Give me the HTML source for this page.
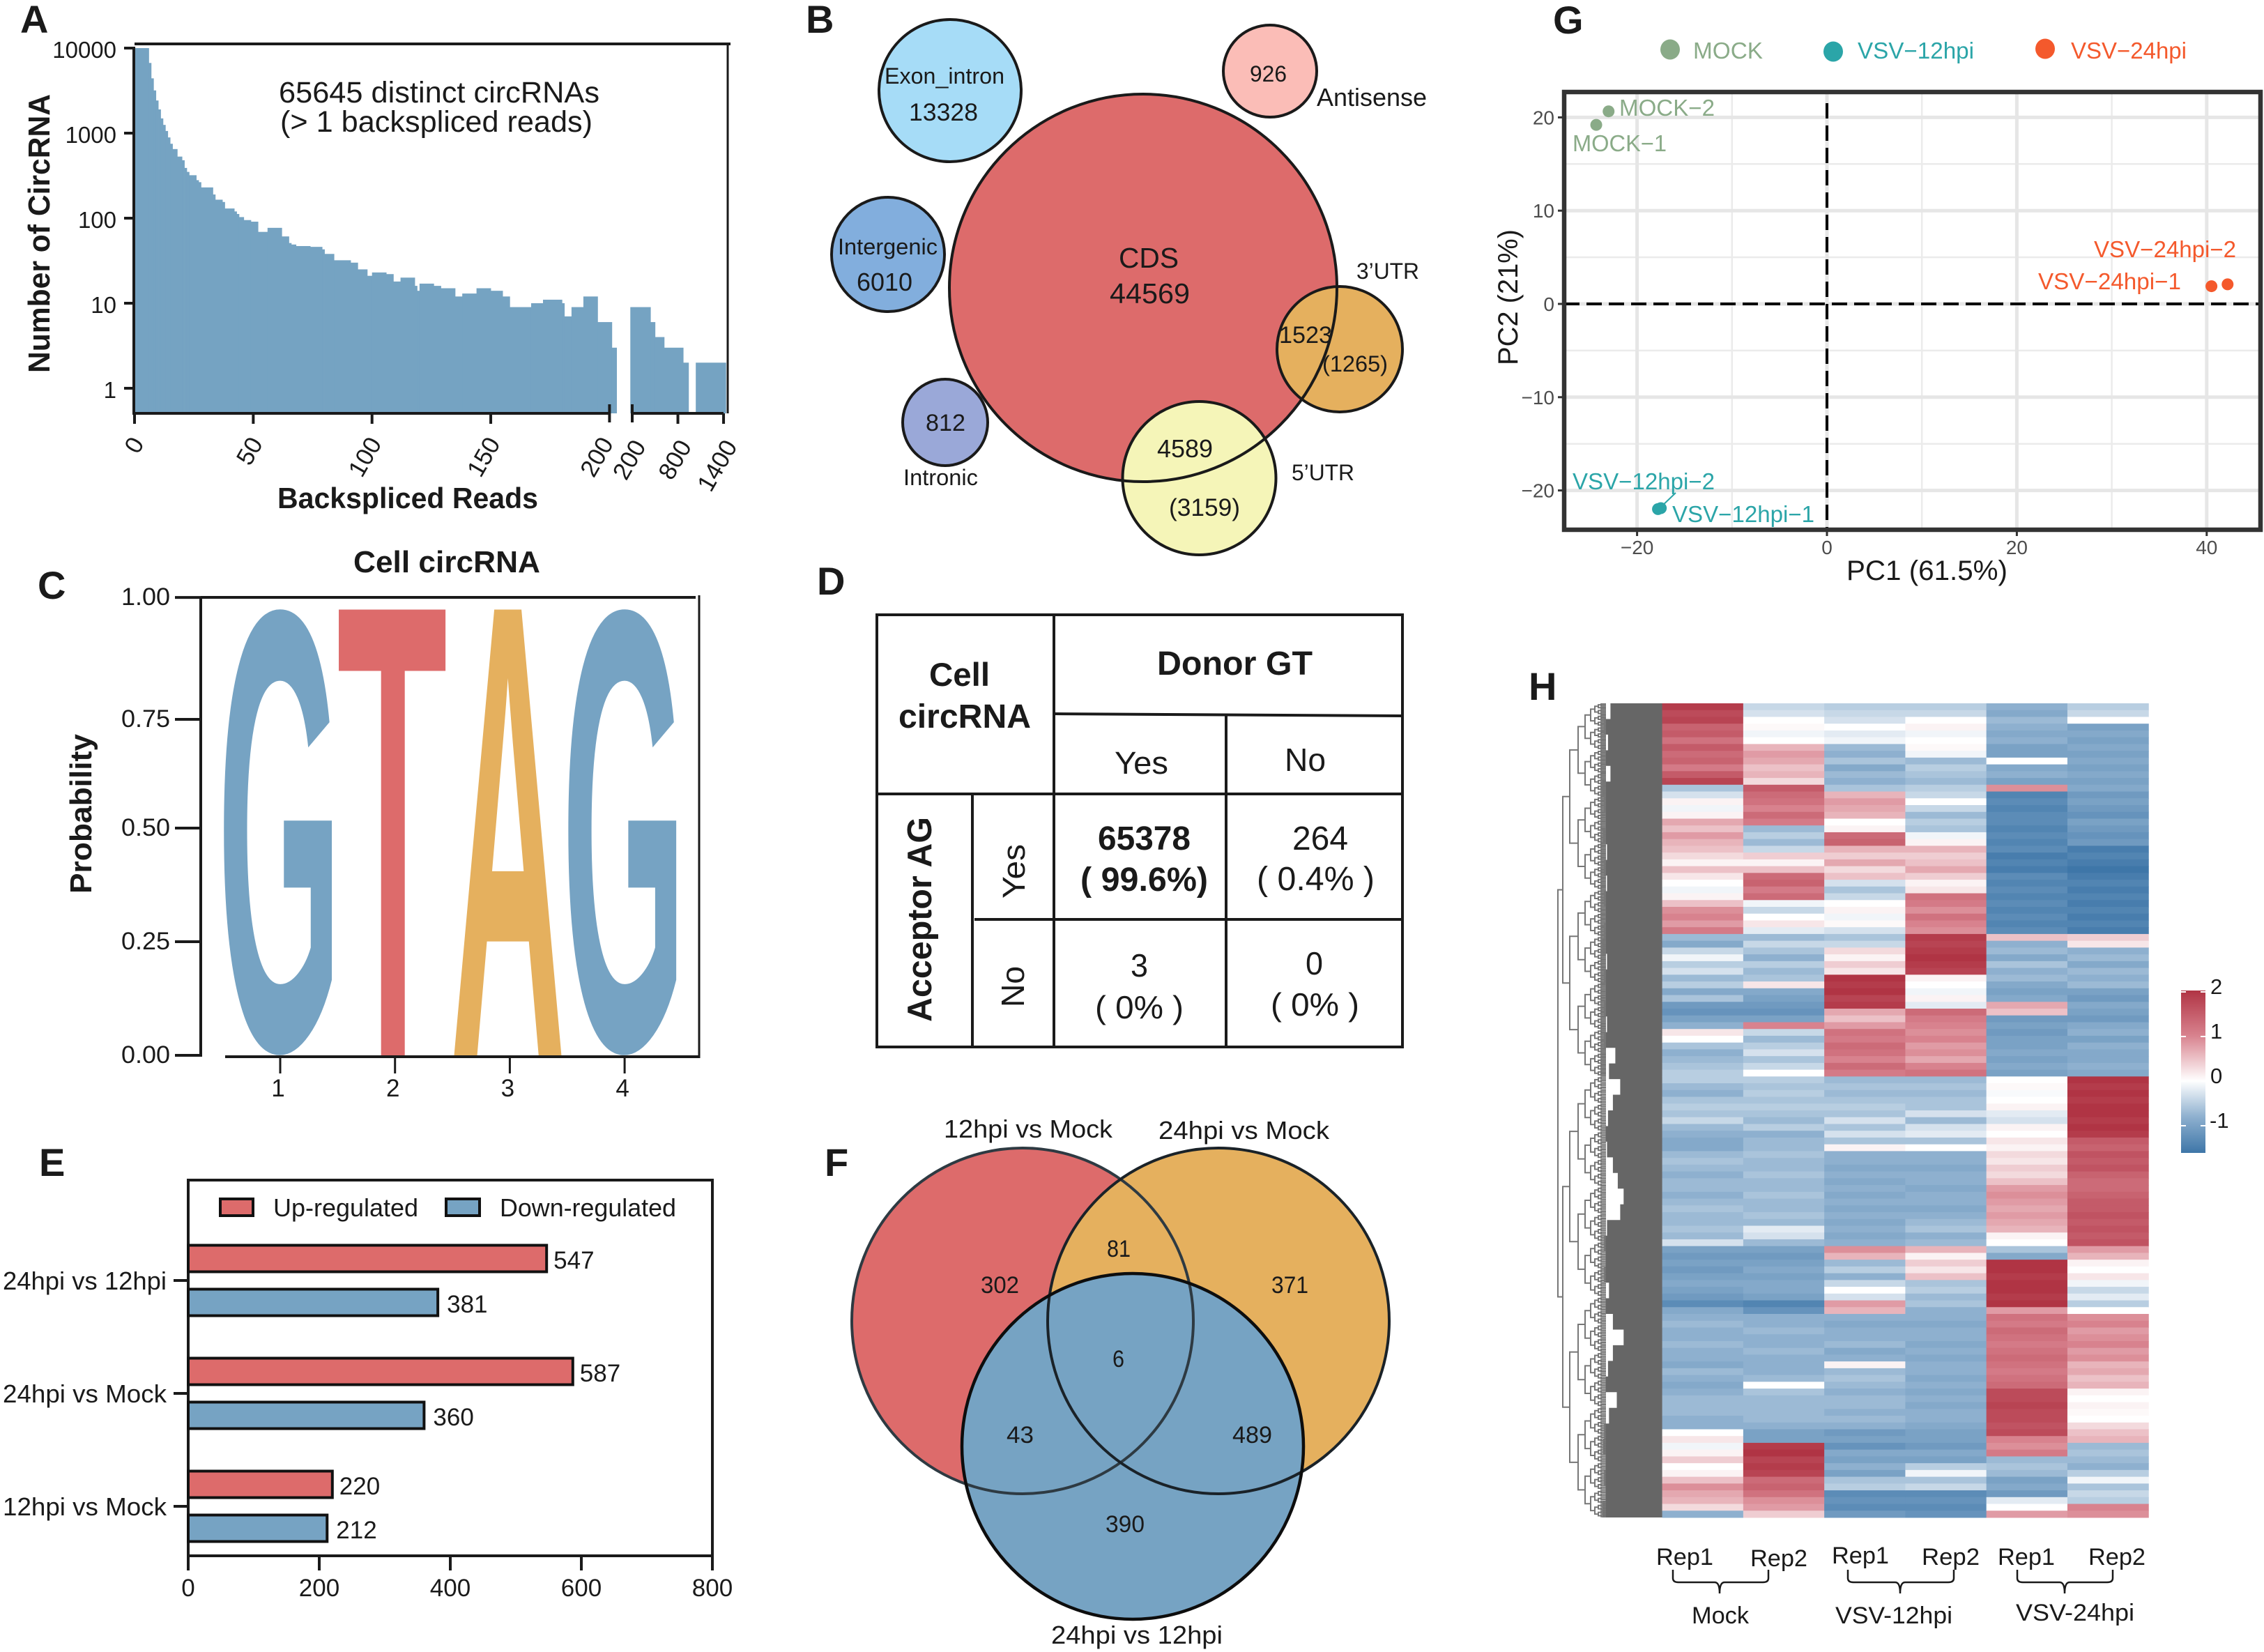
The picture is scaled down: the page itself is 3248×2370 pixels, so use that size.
<!DOCTYPE html>
<html lang="en">
<head>
<meta charset="utf-8">
<title>circRNA figure panels A-H</title>
<style>
html,body{margin:0;padding:0;background:#fff;}
svg{display:block;}
text{font-family:"Liberation Sans",Arial,sans-serif;fill:#1a1a1a;}
.pl{font-size:56px;font-weight:bold;}
.b{font-weight:bold;}
</style>
</head>
<body>
<svg id="fig" width="3248" height="2370" viewBox="0 0 3248 2370">
<defs>
<linearGradient id="cbar" x1="0" y1="1" x2="0" y2="0">
<stop offset="0" stop-color="#3e76a8"/><stop offset="0.222" stop-color="#8eb0cf"/><stop offset="0.444" stop-color="#ffffff"/><stop offset="0.722" stop-color="#d8828e"/><stop offset="1" stop-color="#b03444"/>
</linearGradient>
</defs>
<rect x="0" y="0" width="3248" height="2370" fill="#fff"/>

<!-- PANEL A -->
<g>
<text class="pl" x="29" y="47">A</text>
<g id="a-bars"></g>
<g id="a-axes"></g>
<line x1="192" y1="67" x2="192" y2="595" stroke="#1a1a1a" stroke-width="4"/>
<line x1="193" y1="63" x2="1048" y2="63" stroke="#1a1a1a" stroke-width="4"/>
<line x1="1044" y1="65" x2="1044" y2="593" stroke="#1a1a1a" stroke-width="3"/>
<line x1="192" y1="593" x2="876" y2="593" stroke="#1a1a1a" stroke-width="4"/>
<line x1="907" y1="593" x2="1038" y2="593" stroke="#1a1a1a" stroke-width="4"/>
<text x="400" y="147" font-size="43" textLength="460" lengthAdjust="spacingAndGlyphs">65645 distinct circRNAs</text>
<text x="402" y="189" font-size="43" textLength="448" lengthAdjust="spacingAndGlyphs">(&gt; 1 backspliced reads)</text>
<text class="b" transform="translate(71,535) rotate(-90)" font-size="44" textLength="400" lengthAdjust="spacingAndGlyphs">Number of CircRNA</text>
<text class="b" x="398" y="729" font-size="42" textLength="374" lengthAdjust="spacingAndGlyphs">Backspliced Reads</text>
</g>

<!-- PANEL B -->
<g>
<text class="pl" x="1156" y="47">B</text>
<g stroke="#1a1a1a" stroke-width="4">
<circle cx="1363" cy="130" r="102" fill="#a6dcf7"/>
<ellipse cx="1822" cy="102" rx="67" ry="66" fill="#fbbdb7"/>
<ellipse cx="1274" cy="365" rx="81" ry="82" fill="#82aedd"/>
<ellipse cx="1356" cy="606" rx="61" ry="62" fill="#9aa8d8"/>
<circle cx="1640" cy="413" r="278" fill="#dd6b6b" stroke="none"/>
<circle cx="1922" cy="501" r="90" fill="#e5b05e"/>
<circle cx="1720.5" cy="686" r="110" fill="#f5f5b8"/>
<circle cx="1640" cy="413" r="278" fill="none"/>
</g>
<text x="1269" y="120" font-size="32" textLength="172" lengthAdjust="spacingAndGlyphs">Exon_intron</text>
<text x="1304" y="173" font-size="35" textLength="99" lengthAdjust="spacingAndGlyphs">13328</text>
<text x="1793" y="117" font-size="32" textLength="53" lengthAdjust="spacingAndGlyphs">926</text>
<text x="1889" y="152" font-size="36" textLength="158" lengthAdjust="spacingAndGlyphs">Antisense</text>
<text x="1605" y="384" font-size="41" textLength="86" lengthAdjust="spacingAndGlyphs">CDS</text>
<text x="1592" y="435" font-size="41" textLength="115" lengthAdjust="spacingAndGlyphs">44569</text>
<text x="1202" y="365" font-size="32" textLength="143" lengthAdjust="spacingAndGlyphs">Intergenic</text>
<text x="1229" y="417" font-size="36" textLength="80" lengthAdjust="spacingAndGlyphs">6010</text>
<text x="1328" y="618" font-size="34" textLength="57" lengthAdjust="spacingAndGlyphs">812</text>
<text x="1296" y="696" font-size="32" textLength="107" lengthAdjust="spacingAndGlyphs">Intronic</text>
<text x="1946" y="400" font-size="32" textLength="90" lengthAdjust="spacingAndGlyphs">3’UTR</text>
<text x="1835" y="492" font-size="34" textLength="76" lengthAdjust="spacingAndGlyphs">1523</text>
<text x="1897" y="533" font-size="32" textLength="94" lengthAdjust="spacingAndGlyphs">(1265)</text>
<text x="1660" y="656" font-size="36" textLength="80" lengthAdjust="spacingAndGlyphs">4589</text>
<text x="1677" y="740" font-size="35" textLength="102" lengthAdjust="spacingAndGlyphs">(3159)</text>
<text x="1853" y="689" font-size="32" textLength="90" lengthAdjust="spacingAndGlyphs">5’UTR</text>
</g>

<!-- PANEL C -->
<g>
<text class="pl" x="54" y="859">C</text>
<text class="b" x="507" y="821" font-size="44" textLength="268" lengthAdjust="spacingAndGlyphs">Cell circRNA</text>
<text class="b" transform="translate(131,1282) rotate(-90)" font-size="44" textLength="229" lengthAdjust="spacingAndGlyphs">Probability</text>
<g id="c-logo"></g>
<g id="c-axes"></g>
<line x1="288" y1="857" x2="288" y2="1516" stroke="#1a1a1a" stroke-width="4"/>
<line x1="288" y1="857" x2="998" y2="857" stroke="#1a1a1a" stroke-width="4"/>
<line x1="1003" y1="854" x2="1003" y2="1518" stroke="#1a1a1a" stroke-width="3"/>
<line x1="323" y1="1516" x2="1003" y2="1516" stroke="#1a1a1a" stroke-width="4"/>
</g>

<!-- PANEL D -->
<g>
<text class="pl" x="1172" y="853">D</text>
<g stroke="#1a1a1a" stroke-width="4" fill="none">
<rect x="1258" y="882" width="754" height="620"/>
<line x1="1512" y1="882" x2="1512" y2="1502"/>
<line x1="1759" y1="1025" x2="1759" y2="1502"/>
<line x1="1395" y1="1139" x2="1395" y2="1502"/>
<line x1="1512" y1="1024" x2="2012" y2="1027"/>
<line x1="1258" y1="1139" x2="2012" y2="1139"/>
<line x1="1398" y1="1319" x2="2012" y2="1319"/>
</g>
<text class="b" x="1333" y="984" font-size="47" textLength="87" lengthAdjust="spacingAndGlyphs">Cell</text>
<text class="b" x="1289" y="1044" font-size="48" textLength="190" lengthAdjust="spacingAndGlyphs">circRNA</text>
<text class="b" x="1660" y="968" font-size="48" textLength="223" lengthAdjust="spacingAndGlyphs">Donor GT</text>
<text x="1599" y="1110" font-size="45" textLength="77" lengthAdjust="spacingAndGlyphs">Yes</text>
<text x="1843" y="1106" font-size="46" textLength="59" lengthAdjust="spacingAndGlyphs">No</text>
<text class="b" x="1575" y="1219" font-size="48" textLength="133" lengthAdjust="spacingAndGlyphs">65378</text>
<text class="b" x="1550" y="1278" font-size="48" textLength="183" lengthAdjust="spacingAndGlyphs">( 99.6%)</text>
<text x="1854" y="1219" font-size="48" textLength="80" lengthAdjust="spacingAndGlyphs">264</text>
<text x="1803" y="1277" font-size="48" textLength="169" lengthAdjust="spacingAndGlyphs">( 0.4% )</text>
<text x="1622" y="1401" font-size="46" textLength="25" lengthAdjust="spacingAndGlyphs">3</text>
<text x="1571" y="1461" font-size="46" textLength="127" lengthAdjust="spacingAndGlyphs">( 0% )</text>
<text x="1873" y="1398" font-size="46" textLength="25" lengthAdjust="spacingAndGlyphs">0</text>
<text x="1823" y="1457" font-size="46" textLength="127" lengthAdjust="spacingAndGlyphs">( 0% )</text>
<text class="b" transform="translate(1336,1466) rotate(-90)" font-size="49" textLength="294" lengthAdjust="spacingAndGlyphs">Acceptor AG</text>
<text transform="translate(1470,1289) rotate(-90)" font-size="45" textLength="78" lengthAdjust="spacingAndGlyphs">Yes</text>
<text transform="translate(1469,1445) rotate(-90)" font-size="46" textLength="59" lengthAdjust="spacingAndGlyphs">No</text>
</g>

<!-- PANEL E -->
<g>
<text class="pl" x="56" y="1687">E</text>
<rect x="270" y="1693" width="752" height="539" fill="none" stroke="#1a1a1a" stroke-width="4"/>
<g id="e-marks"></g>
<rect x="316" y="1720" width="47" height="24" fill="#dd6b6b" stroke="#111" stroke-width="4"/>
<text x="392" y="1745" font-size="36" textLength="208" lengthAdjust="spacingAndGlyphs">Up-regulated</text>
<rect x="640" y="1720" width="48" height="24" fill="#76a3c3" stroke="#111" stroke-width="4"/>
<text x="717" y="1745" font-size="36" textLength="253" lengthAdjust="spacingAndGlyphs">Down-regulated</text>
</g>

<!-- PANEL F -->
<g>
<ellipse cx="1467" cy="1895" rx="245" ry="248" fill="#dd6b6b"/>
<ellipse cx="1748" cy="1895" rx="245" ry="248" fill="#e5b05e"/>
<ellipse cx="1625" cy="2075" rx="245" ry="248" fill="#76a3c3"/>
<ellipse cx="1467" cy="1895" rx="245" ry="248" fill="none" stroke="#2e3a42" stroke-width="4"/>
<ellipse cx="1748" cy="1895" rx="245" ry="248" fill="none" stroke="#1a2228" stroke-width="4"/>
<ellipse cx="1625" cy="2075" rx="245" ry="248" fill="none" stroke="#0d0d0d" stroke-width="4.5"/>
<text class="pl" x="1183" y="1687">F</text>
<text x="1354" y="1632" font-size="36" textLength="242" lengthAdjust="spacingAndGlyphs">12hpi vs Mock</text>
<text x="1662" y="1634" font-size="36" textLength="245" lengthAdjust="spacingAndGlyphs">24hpi vs Mock</text>
<text x="1508" y="2358" font-size="36" textLength="246" lengthAdjust="spacingAndGlyphs">24hpi vs 12hpi</text>
<text x="1407" y="1855" font-size="34" textLength="55" lengthAdjust="spacingAndGlyphs">302</text>
<text x="1588" y="1803" font-size="34" textLength="34" lengthAdjust="spacingAndGlyphs">81</text>
<text x="1824" y="1855" font-size="34" textLength="53" lengthAdjust="spacingAndGlyphs">371</text>
<text x="1596" y="1961" font-size="34" textLength="17" lengthAdjust="spacingAndGlyphs">6</text>
<text x="1444" y="2070" font-size="34" textLength="39" lengthAdjust="spacingAndGlyphs">43</text>
<text x="1768" y="2070" font-size="34" textLength="57" lengthAdjust="spacingAndGlyphs">489</text>
<text x="1586" y="2198" font-size="34" textLength="56" lengthAdjust="spacingAndGlyphs">390</text>
</g>

<!-- PANEL G -->
<g>
<text class="pl" x="2228" y="48">G</text>
<ellipse cx="2396" cy="71" rx="14" ry="14.5" fill="#8aab88"/>
<ellipse cx="2630" cy="74" rx="14" ry="14.5" fill="#2ba5a8"/>
<ellipse cx="2934" cy="70" rx="14" ry="14.5" fill="#f4592c"/>
<text x="2429" y="84" font-size="33" textLength="100" lengthAdjust="spacingAndGlyphs" style="fill:#8aab88">MOCK</text>
<text x="2665" y="84" font-size="33" textLength="167" lengthAdjust="spacingAndGlyphs" style="fill:#2ba5a8">VSV−12hpi</text>
<text x="2971" y="84" font-size="33" textLength="166" lengthAdjust="spacingAndGlyphs" style="fill:#f4592c">VSV−24hpi</text>
<g id="g-grid"></g>
<line x1="2621" y1="148" x2="2621" y2="760" stroke="#000" stroke-width="4" stroke-dasharray="22 10"/>
<line x1="2244" y1="436" x2="3243" y2="436" stroke="#000" stroke-width="4" stroke-dasharray="22 10"/>
<line x1="2380" y1="730" x2="2404" y2="707" stroke="#2ba5a8" stroke-width="2"/>
<g id="g-points"></g>
<rect x="2244" y="132" width="999" height="628" fill="none" stroke="#333" stroke-width="6.5"/>
<text x="2323" y="166" font-size="33" textLength="137" lengthAdjust="spacingAndGlyphs" style="fill:#8aab88">MOCK−2</text>
<text x="2256" y="217" font-size="33" textLength="135" lengthAdjust="spacingAndGlyphs" style="fill:#8aab88">MOCK−1</text>
<text x="3004" y="369" font-size="33" textLength="204" lengthAdjust="spacingAndGlyphs" style="fill:#f4592c">VSV−24hpi−2</text>
<text x="2924" y="415" font-size="33" textLength="205" lengthAdjust="spacingAndGlyphs" style="fill:#f4592c">VSV−24hpi−1</text>
<text x="2256" y="702" font-size="33" textLength="204" lengthAdjust="spacingAndGlyphs" style="fill:#2ba5a8">VSV−12hpi−2</text>
<text x="2399" y="749" font-size="33" textLength="204" lengthAdjust="spacingAndGlyphs" style="fill:#2ba5a8">VSV−12hpi−1</text>
<text x="2649" y="832" font-size="40" textLength="231" lengthAdjust="spacingAndGlyphs">PC1 (61.5%)</text>
<text transform="translate(2177,524) rotate(-90)" font-size="40" textLength="195" lengthAdjust="spacingAndGlyphs">PC2 (21%)</text>
</g>

<!-- PANEL H -->
<g>
<text class="pl" x="2193" y="1004">H</text>
<g id="h-dendro"></g>
<g id="h-cells"></g>
<rect x="3129" y="1421" width="35" height="233" fill="url(#cbar)"/>
<g id="h-cbar"></g>
<text x="2376" y="2245" font-size="34" textLength="82" lengthAdjust="spacingAndGlyphs">Rep1</text>
<text x="2511" y="2247" font-size="34" textLength="82" lengthAdjust="spacingAndGlyphs">Rep2</text>
<text x="2628" y="2243" font-size="34" textLength="82" lengthAdjust="spacingAndGlyphs">Rep1</text>
<text x="2757" y="2245" font-size="34" textLength="83" lengthAdjust="spacingAndGlyphs">Rep2</text>
<text x="2866" y="2245" font-size="34" textLength="82" lengthAdjust="spacingAndGlyphs">Rep1</text>
<text x="2996" y="2245" font-size="34" textLength="82" lengthAdjust="spacingAndGlyphs">Rep2</text>
<g fill="none" stroke="#1a1a1a" stroke-width="2.5">
<path d="M2400 2252V2264Q2400 2270 2408 2270H2460Q2467 2270 2467 2286Q2467 2270 2474 2270H2529Q2537 2270 2537 2264V2252"/>
<path d="M2651 2252V2264Q2651 2270 2659 2270H2719Q2726 2270 2726 2286Q2726 2270 2733 2270H2795Q2803 2270 2803 2264V2252"/>
<path d="M2894 2252V2264Q2894 2270 2902 2270H2955Q2962 2270 2962 2286Q2962 2270 2969 2270H3023Q3031 2270 3031 2264V2252"/>
</g>
<text x="2427" y="2329" font-size="34" textLength="82" lengthAdjust="spacingAndGlyphs">Mock</text>
<text x="2633" y="2329" font-size="34" textLength="168" lengthAdjust="spacingAndGlyphs">VSV-12hpi</text>
<text x="2892" y="2325" font-size="34" textLength="170" lengthAdjust="spacingAndGlyphs">VSV-24hpi</text>
</g>
</svg>

<script>
/* ---------- shared helper ---------- */
const SVGNS = document.getElementById('fig').namespaceURI;
function mk(tag, attrs, parent) {
  const e = document.createElementNS(SVGNS, tag);
  for (const k in attrs) e.setAttribute(k, attrs[k]);
  parent.appendChild(e);
  return e;
}

/* ---------- Panel A data ---------- */
const histUpperReads = [6,7,8,9,10,11,12,13,14,15,16,18,20,21,22,23,26,27,28,33,34,37,38,42,43,44,46,49,52,56,62,65,66,68,74,79,80,84,91,94,98,100,106,109,112,118,119,120,126,129,135,138,144,150,155,158,167,172,180,181,184,189,195,201,203];
const histCounts = [10000,6690,4410,3180,2420,1900,1490,1250,1060,890,750,650,530,480,390,350,320,280,265,230,190,165,155,130,120,112,103,95,91,69,77,61,51,49,47,46,43,38,32,30,25,21,23,22,18,20,16,14,17,16,15,12,13,15,14,12,9,10,11,10,7,9,12,6,3];
const tailEdges = [175,440,500,620,870,940,1035,1430];
const tailCounts = [9,6,4,3,2,0,2];
const histYTicks = [1,10,100,1000,10000];
const histXTicks = [0,50,100,150,200];
const tailXTicks = [200,800,1400];

function histX(v) { return 193 + v * 3.407; }
function tailX(v) { return 907 + (v - 200) * 0.1092; }
function histY(v) { return 557 - 122 * Math.log10(v); }

(function drawHist() {
  const bars = document.getElementById('a-bars');
  const axes = document.getElementById('a-axes');
  let prev = 0;
  histCounts.forEach(function (c, i) {
    const x0 = histX(prev), x1 = histX(histUpperReads[i]), y = histY(c);
    const r = mk('rect', {x: x0, y: y, width: x1 - x0 + 0.4, height: 593 - y, fill: '#75a3c2'}, bars);
    
    
    prev = histUpperReads[i];
  });
  tailCounts.forEach(function (c, i) {
    if (c <= 0) return;
    const x0 = tailX(tailEdges[i]), x1 = tailX(tailEdges[i + 1]), y = histY(c);
    const r = mk('rect', {x: x0, y: y, width: x1 - x0 + 0.4, height: 593 - y, fill: '#75a3c2'}, bars);
    
    
  });
  histYTicks.forEach(function (t) {
    const y = histY(t);
    const l = mk('line', {x1: 178, x2: 192, y1: y, y2: y, stroke: '#1a1a1a', 'stroke-width': 4}, axes);
    
    
    const s = mk('text', {x: 167, y: y + 14, 'font-size': 33, 'text-anchor': 'end'}, axes);
    s.textContent = String(t);
    
    
  });
  histXTicks.forEach(function (t, i) {
    const x = histX(t);
    const broken = i === histXTicks.length - 1;
    const l = mk('line', {x1: x, x2: x, y1: broken ? 580 : 593, y2: broken ? 606 : 608, stroke: '#1a1a1a', 'stroke-width': 4}, axes);
    
    
    const s = mk('text', {'font-size': 35, 'text-anchor': 'end', transform: 'translate(' + (broken ? x - 4 : x + 4) + ',630) rotate(-60)', dy: '0.35em'}, axes);
    s.textContent = String(t);
    
    
  });
  tailXTicks.forEach(function (t, i) {
    const x = tailX(t);
    const l = mk('line', {x1: x, x2: x, y1: i === 0 ? 580 : 593, y2: i === 0 ? 606 : 608, stroke: '#1a1a1a', 'stroke-width': 4}, axes);
    
    
    const s = mk('text', {'font-size': 35, 'text-anchor': 'end', transform: 'translate(' + (x + 10) + ',634) rotate(-60)', dy: '0.35em'}, axes);
    s.textContent = String(t);
    
    
  });
})();

/* ---------- Panel C data ---------- */
const logoLetters = ['G','T','A','G'];
const logoPositions = [1,2,3,4];
const logoProbabilities = [0.975,0.975,0.975,0.975];
const logoColors = ['#76a3c3','#dd6b6b','#e5b05e','#76a3c3'];
const logoYTicks = [0,0.25,0.5,0.75,1];

function logoX(p) { return 399 + (p - 1) * 164.7; }
/* the printed axis is slightly uneven, so this maps through its four segments */
function logoY(v) {
  const px = [1514, 1351, 1188, 1032, 857];
  const t = Math.max(0, Math.min(3.999, v * 4));
  const i = Math.floor(t);
  return px[i] + (px[i + 1] - px[i]) * (t - i);
}

(function drawLogo() {
  const g = document.getElementById('c-logo');
  const axes = document.getElementById('c-axes');
  const ctx = document.createElement('canvas').getContext('2d');
  ctx.font = 'bold 100px "Liberation Sans", Arial, sans-serif';
  const inkAscent = {G: 69.8, T: 68.8, A: 68.8};
  const inkDescent = {G: 1.0, T: 0, A: 0};
  logoLetters.forEach(function (ch, i) {
    const m = ctx.measureText(ch);
    const L = m.actualBoundingBoxLeft, R = m.actualBoundingBoxRight, A = inkAscent[ch], D = inkDescent[ch];
    const w = 156, top = logoY(logoProbabilities[i]), bottom = logoY(0);
    const sx = w / (L + R), sy = (bottom - top) / (A + D);
    const left = logoX(logoPositions[i]) - w / 2;
    const tx = left + L * sx, ty = bottom - D * sy;
    const t = mk('text', {'font-size': 100, 'font-weight': 'bold', transform: 'translate(' + tx + ',' + ty + ') scale(' + sx + ',' + sy + ')', style: 'fill:' + logoColors[i]}, g);
    t.textContent = ch;
    
    
    if (ch === 'T') {
      /* the reference T has a thinner bar and stem than the font's */
      const barH = 88, stemW = 34, cx = left + w / 2, barBottom = top + barH;
      const trimL = mk('rect', {x: left - 2, y: barBottom, width: w / 2 - stemW / 2 + 2, height: bottom - barBottom + 1, fill: '#fff'}, g);
      
      
      const trimR = mk('rect', {x: cx + stemW / 2, y: barBottom, width: w / 2 - stemW / 2 + 2, height: bottom - barBottom + 1, fill: '#fff'}, g);
      
      
    }
  });
  logoYTicks.forEach(function (t) {
    const y = logoY(t);
    const l = mk('line', {x1: 251, x2: 288, y1: y, y2: y, stroke: '#1a1a1a', 'stroke-width': 4}, axes);
    
    
    const s = mk('text', {x: 174, y: y + 11, 'font-size': 35, textLength: 70, lengthAdjust: 'spacingAndGlyphs'}, axes);
    s.textContent = t.toFixed(2);
    
    
  });
  logoPositions.forEach(function (p) {
    const x = logoX(p);
    const l = mk('line', {x1: x + 3, x2: x + 3, y1: 1516, y2: 1540, stroke: '#1a1a1a', 'stroke-width': 3}, axes);
    
    
    const s = mk('text', {x: x, y: 1573, 'font-size': 35, 'text-anchor': 'middle'}, axes);
    s.textContent = String(p);
    
    
  });
})();

/* ---------- Panel E data ---------- */
const comparisons = ['24hpi vs 12hpi','24hpi vs Mock','12hpi vs Mock'];
const upRegulated = [547,587,220];
const downRegulated = [381,360,212];
const barXTicks = [0,200,400,600,800];

function barX(v) { return 270 + v * 0.94; }
function barCat(i) { return 1837 + i * 162; }

(function drawBars() {
  const g = document.getElementById('e-marks');
  comparisons.forEach(function (name, i) {
    const cy = barCat(i);
    const l = mk('line', {x1: 249, x2: 270, y1: cy, y2: cy, stroke: '#1a1a1a', 'stroke-width': 4}, g);
    
    
    const s = mk('text', {x: 239, y: cy + 13, 'font-size': 36, 'text-anchor': 'end', textLength: 235, lengthAdjust: 'spacingAndGlyphs'}, g);
    s.textContent = name;
    
    

    const up = mk('rect', {x: 270, y: cy - 50.5, width: barX(upRegulated[i]) - 270, height: 38, fill: '#dd6b6b', stroke: '#111', 'stroke-width': 4}, g);
    
    
    const ut = mk('text', {x: barX(upRegulated[i]) + 10, y: cy - 17, 'font-size': 35}, g);
    ut.textContent = String(upRegulated[i]);
    
    

    const dn = mk('rect', {x: 270, y: cy + 12.5, width: barX(downRegulated[i]) - 270, height: 38, fill: '#76a3c3', stroke: '#111', 'stroke-width': 4}, g);
    
    
    const dt = mk('text', {x: barX(downRegulated[i]) + 13, y: cy + 46, 'font-size': 35}, g);
    dt.textContent = String(downRegulated[i]);
    
    
  });
  barXTicks.forEach(function (t) {
    const x = barX(t);
    const l = mk('line', {x1: x, x2: x, y1: 2232, y2: 2253, stroke: '#1a1a1a', 'stroke-width': 4}, g);
    
    
    const s = mk('text', {x: x, y: 2290, 'font-size': 35, 'text-anchor': 'middle'}, g);
    s.textContent = String(t);
    
    
  });
})();

/* ---------- Panel G data ---------- */
const pcaPc1 = [-24.3,-23.0,-17.8,-17.5,40.5,42.2];
const pcaPc2 = [19.2,20.65,-22.0,-21.9,1.9,2.1];
const pcaGroupColors = ['#8aab88','#8aab88','#2ba5a8','#2ba5a8','#f4592c','#f4592c'];
const pcaXMajor = [-20,0,20,40];
const pcaXMinor = [-10,10,30];
const pcaYMajor = [-20,-10,0,10,20];
const pcaYMinor = [-15,-5,5,15];

function pcaX(v) { return 2621 + v * 13.62; }
function pcaY(v) { return 436 - v * 13.38; }

(function drawPca() {
  const grid = document.getElementById('g-grid');
  const pts = document.getElementById('g-points');
  pcaXMinor.forEach(function (t) {
    const l = mk('line', {x1: pcaX(t), x2: pcaX(t), y1: 132, y2: 760, stroke: '#ebebeb', 'stroke-width': 2.5}, grid);
    
    
  });
  pcaYMinor.forEach(function (t) {
    const l = mk('line', {x1: 2244, x2: 3243, y1: pcaY(t), y2: pcaY(t), stroke: '#ebebeb', 'stroke-width': 2.5}, grid);
    
    
  });
  pcaXMajor.forEach(function (t) {
    const x = pcaX(t);
    const l = mk('line', {x1: x, x2: x, y1: 132, y2: 760, stroke: '#e6e6e6', 'stroke-width': 5}, grid);
    
    
    const k = mk('line', {x1: x, x2: x, y1: 760, y2: 769, stroke: '#333', 'stroke-width': 3}, grid);
    
    
    const s = mk('text', {x: x, y: 795, 'font-size': 28, 'text-anchor': 'middle', style: 'fill:#4d4d4d'}, grid);
    s.textContent = String(t).replace('-', '\u2212');
    
    
  });
  pcaYMajor.forEach(function (t) {
    const y = pcaY(t);
    const l = mk('line', {x1: 2244, x2: 3243, y1: y, y2: y, stroke: '#e6e6e6', 'stroke-width': 5}, grid);
    
    
    const k = mk('line', {x1: 2235, x2: 2244, y1: y, y2: y, stroke: '#333', 'stroke-width': 3}, grid);
    
    
    const s = mk('text', {x: 2230, y: y + 10, 'font-size': 28, 'text-anchor': 'end', style: 'fill:#4d4d4d'}, grid);
    s.textContent = String(t).replace('-', '\u2212');
    
    
  });
  pcaPc1.forEach(function (v, i) {
    const c = mk('circle', {cx: pcaX(v), cy: pcaY(pcaPc2[i]), r: 8.5, fill: pcaGroupColors[i]}, pts);
    
    
  });
})();

/* ---------- Panel H data (one value per row band) ---------- */
const mockRep1 = [1.9,1.7,1.8,1.4,1.5,1.2,1.5,1.3,1.4,1.1,1.5,1.8,-0.6,-0.3,0.1,-0.1,0.1,0.7,0.5,0.8,0.6,0.5,0.3,0.1,0.5,0.2,0.0,-0.1,0.1,0.5,0.9,1.0,0.8,1.1,-0.7,-0.9,-0.4,-0.1,-0.5,-0.3,-0.7,-0.5,-0.9,-0.6,-1.1,-1.2,-1.0,-0.8,0.2,0.0,-0.6,-0.8,-0.7,-0.6,-0.5,-0.5,-0.7,-0.8,-0.6,-0.5,-0.6,-0.4,-0.7,-0.8,-0.9,-0.9,-0.7,-0.6,-0.7,-0.8,-0.7,-0.7,-0.8,-0.7,-0.6,-0.7,-0.7,-0.6,-0.7,-0.3,-1.0,-1.1,-1.0,-1.1,-1.0,-0.9,-1.0,-1.1,-1.3,-0.9,-0.8,-0.7,-0.8,-0.8,-0.7,-0.8,-0.8,-0.9,-0.7,-0.8,-0.9,-0.8,-0.7,-0.7,-0.7,-0.8,-0.8,0.0,0.2,-0.1,0.1,0.4,0.0,0.1,0.5,0.9,0.7,0.6,0.3,-0.8];
const mockRep2 = [-0.4,-0.3,0.0,0.05,-0.1,0.0,0.6,0.8,0.7,0.5,0.6,0.3,1.5,1.3,1.2,1.0,1.3,1.1,-0.7,-0.5,-0.7,-0.4,0.4,0.1,0.5,1.3,1.4,1.1,1.3,-0.1,-0.4,0.0,0.2,-0.2,-0.7,-0.4,-0.6,-0.8,-0.5,-0.7,-0.6,0.2,-0.9,-1.0,-1.1,-1.2,-1.0,1.0,-0.4,-0.7,-0.5,-0.3,-0.6,-0.4,0.0,-0.5,-0.6,-0.5,-0.6,-0.5,-0.6,-0.7,-0.5,-0.8,-0.7,-0.7,-0.6,-0.7,-0.7,-0.6,-0.7,-0.7,-0.6,-0.7,-0.7,-0.6,-0.7,-0.2,-0.3,-0.7,-1.0,-1.1,-1.0,-0.9,-1.0,-0.9,-0.9,-1.0,-1.4,-1.2,-0.8,-0.8,-0.7,-0.8,-0.8,-0.7,-0.8,-0.8,-0.8,-0.7,0.0,-0.6,-0.7,-0.7,-0.7,-0.7,-0.8,-1.0,-1.0,1.9,2.0,1.8,1.9,1.8,1.3,1.4,1.2,0.9,0.8,0.4];
const vsv12Rep1 = [-0.5,-0.4,-0.3,0.0,-0.2,-0.1,-0.7,-0.8,-0.6,-0.9,-0.7,-0.8,-0.6,0.6,0.8,0.7,0.6,0.0,0.1,1.3,1.4,0.6,0.4,0.7,0.3,0.5,-0.3,-0.6,-0.4,0.0,0.1,-0.1,0.05,-0.3,-0.6,-0.4,0.3,0.1,0.4,0.2,2.0,1.9,2.0,1.8,1.9,0.7,0.5,0.8,1.2,1.1,1.3,1.2,1.0,1.3,1.1,-0.7,-0.6,-0.7,-0.6,-0.5,-0.6,-0.3,-0.6,-0.3,-0.6,0.1,-0.8,-0.8,-0.9,-0.8,-0.9,-0.8,-0.9,-0.8,-0.9,-0.8,-0.9,-0.8,-0.9,-0.8,0.9,0.6,-0.7,-0.5,-0.8,-0.4,0.0,-0.3,0.8,0.6,-0.8,-0.9,-0.8,-0.8,-0.7,-0.9,-0.8,0.1,-0.7,-0.6,-0.7,-0.8,-0.7,-0.7,-0.8,-0.7,-0.8,-1.1,-1.0,-1.2,-0.9,-1.0,-0.8,-1.0,-0.6,-0.5,-1.3,-1.2,-1.3,-1.1];
const vsv12Rep2 = [-0.5,-0.4,0.0,0.1,-0.1,0.0,0.05,-0.1,-0.7,-0.5,-0.6,-0.7,-0.5,-0.4,0.0,-0.4,-0.7,-0.5,-0.6,-0.1,0.1,0.6,0.4,0.5,0.7,0.4,0.1,0.2,1.2,1.1,0.9,1.2,1.0,0.9,1.9,1.8,1.9,2.0,1.9,1.8,0.1,0.0,-0.1,0.1,-0.2,1.3,1.1,1.0,0.9,1.0,0.8,0.9,0.7,1.0,1.2,-0.7,-0.6,-0.7,-0.6,-0.6,-0.3,-0.7,-0.3,-0.2,-0.6,0.0,-0.8,-0.8,-0.9,-0.8,-0.8,-0.9,-0.8,-0.8,-0.9,-0.8,-0.7,-0.6,-0.8,-0.7,0.6,0.1,0.4,0.2,0.5,-0.6,-0.5,-0.7,-0.6,-0.8,-0.8,-0.9,-0.8,-0.8,-0.9,-0.8,-0.9,-0.8,-0.8,-0.9,-0.8,-0.9,-0.8,-0.9,-0.8,-0.8,-0.9,-1.0,-1.0,-1.1,-0.9,-1.0,-0.5,-0.1,-0.6,-0.4,-1.3,-1.2,-1.3,-1.2];
const vsv24Rep1 = [-0.8,-0.9,-0.7,-0.8,-0.9,-0.8,-1.0,-1.0,0.0,-0.9,-0.8,-1.0,0.9,-1.4,-1.3,-1.4,-1.3,-1.3,-1.4,-1.3,-1.4,-1.3,-1.5,-1.4,-1.5,-1.3,-1.4,-1.3,-1.4,-1.3,-1.4,-1.3,-1.4,-1.3,0.5,-0.8,-0.7,-0.9,-0.6,-0.8,-0.7,-0.9,-1.0,-0.9,0.7,0.5,-1.1,-1.0,-1.1,-1.0,-1.0,-0.9,-1.0,-0.9,-1.0,0.0,0.05,-0.05,0.0,0.1,-0.2,-0.3,0.1,0.0,0.2,0.1,0.3,0.2,0.4,0.3,0.5,0.8,0.9,0.8,0.7,0.8,0.7,0.6,0.1,0.0,-0.6,-0.9,2.0,2.0,1.9,2.0,2.0,1.9,2.0,0.8,1.2,1.1,1.3,1.2,1.1,1.2,1.3,1.2,1.1,1.2,1.3,1.7,1.7,1.8,1.7,1.7,1.6,1.7,1.0,0.9,1.1,-0.7,-0.6,-0.7,-1.0,-0.9,-1.1,-0.2,0.0,0.8];
const vsv24Rep2 = [-0.5,-0.4,0.0,-1.0,-0.9,-1.0,-0.9,-1.0,-0.9,-1.0,-0.9,-1.0,-0.9,-1.1,-1.0,-1.1,-1.2,-1.0,-1.1,-1.2,-1.1,-1.5,-1.4,-1.5,-1.6,-1.5,-1.4,-1.5,-1.4,-1.5,-1.4,-1.5,-1.4,-1.5,0.4,0.2,-0.8,-0.7,-0.9,-0.7,-0.8,-0.7,-1.0,-1.1,-0.9,-1.0,-1.1,-0.9,-0.8,-1.0,-0.8,-0.9,-0.9,-0.8,-0.9,2.0,1.9,2.0,1.9,2.0,2.0,1.9,2.0,1.9,1.5,1.4,1.6,1.5,1.6,1.4,1.3,1.3,1.4,1.5,1.5,1.6,1.5,1.6,1.5,1.6,0.8,0.6,0.1,0.0,0.2,-0.1,-0.4,-0.2,-0.5,0.0,0.9,1.0,0.8,0.9,1.0,0.8,0.9,0.6,0.7,0.5,0.6,0.1,0.0,0.1,0.05,0.0,0.3,0.5,0.6,-0.7,-0.6,-0.7,-0.8,-0.5,-0.1,-0.6,-0.4,-0.5,1.0,0.9];
const heatColumns = [mockRep1, mockRep2, vsv12Rep1, vsv12Rep2, vsv24Rep1, vsv24Rep2];
const colorbarTicks = [-1,0,1,2];
const leafEdgeReadings = [229,216,224,219,229,212,216,219,214,222,216,222,216,219,216,212,222,216,219,216,222,216,239,226,249,234,224,219,222,234,244,256,249,222,216,219,216,226,219,234,256,234,224,219,242,226,216,214,219,216,219,212];

function heatX(c) { return 2384.6 + c * 116.27; }
function heatY(r) { return 1009 + r * (1168 / 120); }
function heatColor(v) {
  const stops = [[-1.6,[62,118,168]],[-0.8,[142,176,207]],[0,[255,255,255]],[1,[216,130,142]],[2,[176,52,68]]];
  const x = Math.max(-1.6, Math.min(2, v));
  for (let i = 0; i < stops.length - 1; i++) {
    const a = stops[i], b = stops[i + 1];
    if (x <= b[0]) {
      const f = (x - a[0]) / (b[0] - a[0]);
      return 'rgb(' + a[1].map(function (q, k) { return Math.round(q + (b[1][k] - q) * f); }).join(',') + ')';
    }
  }
  return 'rgb(176,52,68)';
}
function cbarY(v) { return 1423 + (2 - v) * 64; }

(function drawHeat() {
  const cells = document.getElementById('h-cells');
  heatColumns.forEach(function (col, c) {
    col.forEach(function (v, r) {
      const cell = mk('rect', {x: heatX(c), y: heatY(r), width: 116.8, height: 1168 / 120 + 0.5, fill: heatColor(v)}, cells);
      
      
    });
  });

  const dendro = document.getElementById('h-dendro');
  /* gray leaf block with jagged left edge */
  let d = 'M2385 1009';
  const stepY = 1168 / leafEdgeReadings.length;
  leafEdgeReadings.forEach(function (zx, i) {
    const x = 2150 + zx / 1.428;
    d += 'H' + x.toFixed(1) + 'V' + (1009 + (i + 1) * stepY).toFixed(1);
  });
  d += 'H2385Z';
  const block = mk('path', {d: d, fill: '#666666'}, dendro);
  
  

  /* tree branches */
  const levelX = [2235,2242,2252,2264,2274,2282,2288,2293,2297,2304];
  let tree = '';
  function branch(a, b, depth) {
    if (depth >= 9) return (a + b) / 2;
    const m = depth === 0 ? a + (b - a) * 0.458 : (a + b) / 2;
    const y1 = branch(a, m, depth + 1), y2 = branch(m, b, depth + 1);
    const x = levelX[depth], xn = levelX[depth + 1];
    tree += 'M' + xn + ' ' + y1.toFixed(1) + 'H' + x + 'V' + y2.toFixed(1) + 'H' + xn;
    return (y1 + y2) / 2;
  }
  branch(1009, 2177, 0);
  const treePath = mk('path', {d: tree, fill: 'none', stroke: '#777', 'stroke-width': 2}, dendro);
  
  

  const cb = document.getElementById('h-cbar');
  colorbarTicks.forEach(function (t) {
    const y = cbarY(t);
    const a = mk('line', {x1: 3129, x2: 3136, y1: y, y2: y, stroke: '#fff', 'stroke-width': 2}, cb);
    
    
    const b = mk('line', {x1: 3157, x2: 3164, y1: y, y2: y, stroke: '#fff', 'stroke-width': 2}, cb);
    
    
    const s = mk('text', {x: t < 0 ? 3170 : 3171, y: y + 3, 'font-size': 31}, cb);
    s.textContent = t < 0 ? '-' + Math.abs(t) : String(t);
    
    
  });
})();
</script>
</body>
</html>
